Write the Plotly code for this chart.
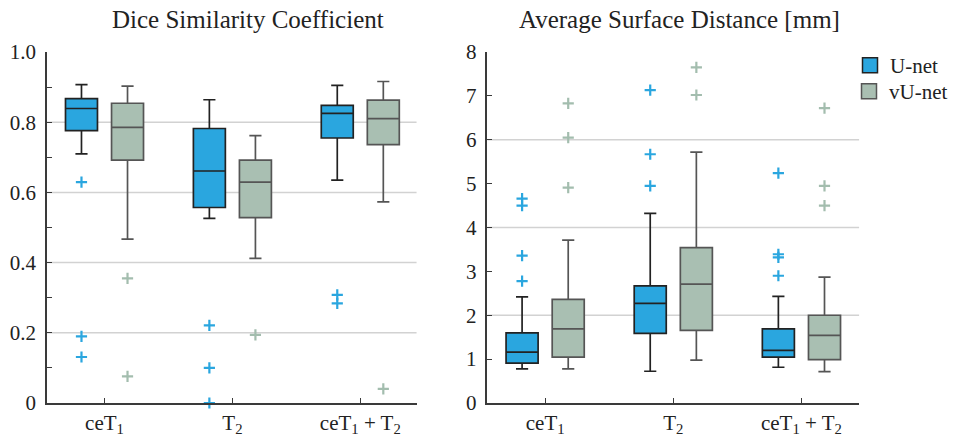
import plotly.graph_objects as go

categories = ["ceT<sub>1</sub>", "T<sub>2</sub>", "ceT<sub>1</sub> + T<sub>2</sub>"]
models = ["U-net", "vU-net"]

# Dice Similarity Coefficient
dsc_unet_upper = [0.907, 0.864, 0.905]
dsc_unet_q3 = [0.867, 0.782, 0.848]
dsc_unet_median = [0.839, 0.661, 0.825]
dsc_unet_q1 = [0.776, 0.557, 0.755]
dsc_unet_lower = [0.710, 0.526, 0.635]
dsc_unet_outliers = [[0.629, 0.190, 0.131], [0.221, 0.100, 0.0], [0.308, 0.284]]

dsc_vunet_upper = [0.903, 0.762, 0.916]
dsc_vunet_q3 = [0.854, 0.692, 0.863]
dsc_vunet_median = [0.785, 0.629, 0.810]
dsc_vunet_q1 = [0.692, 0.528, 0.736]
dsc_vunet_lower = [0.467, 0.412, 0.573]
dsc_vunet_outliers = [[0.355, 0.076], [0.194], [0.040]]

# Average Surface Distance [mm]
asd_unet_upper = [2.42, 4.32, 2.43]
asd_unet_q3 = [1.60, 2.67, 1.69]
asd_unet_median = [1.16, 2.27, 1.20]
asd_unet_q1 = [0.91, 1.585, 1.044]
asd_unet_lower = [0.777, 0.724, 0.815]
asd_unet_outliers = [[4.66, 4.50, 3.36, 2.78], [7.13, 5.67, 4.95], [5.24, 3.39, 3.32, 2.90]]

asd_vunet_upper = [3.71, 5.72, 2.87]
asd_vunet_q3 = [2.36, 3.54, 2.00]
asd_vunet_median = [1.69, 2.71, 1.54]
asd_vunet_q1 = [1.044, 1.653, 0.99]
asd_vunet_lower = [0.777, 0.975, 0.716]
asd_vunet_outliers = [[6.83, 6.05, 4.91], [7.65, 7.02], [6.72, 4.95, 4.50]]

dsc_ticks = [0, 0.2, 0.4, 0.6, 0.8, 1.0]
dsc_ticktext = ["0", "0.2", "0.4", "0.6", "0.8", "1.0"]
dsc_minor = [0.1, 0.3, 0.5, 0.7, 0.9]
dsc_grid = [0.2, 0.4, 0.6, 0.8]
asd_ticks = [0, 1, 2, 3, 4, 5, 6, 7, 8]
asd_grid = [2, 4, 6]

# styling
BLUE = "#2AA6DF"
GREEN = "#A9BFB2"
BLUE_LINE = "#222222"
GREEN_LINE = "#555555"
BLUE_PT = "#2AA6DF"
GREEN_PT = "#A3BDAE"
OFFSET = 0.18
BOXW = 0.25
FONT = "Liberation Serif"

fig = go.Figure()

def add_panel(xa, ya, stats_u, stats_v, out_u, out_v):
    n = len(categories)
    for stats, outs, fill, lc, pc, off, name in [
        (stats_u, out_u, BLUE, BLUE_LINE, BLUE_PT, -OFFSET, models[0]),
        (stats_v, out_v, GREEN, GREEN_LINE, GREEN_PT, OFFSET, models[1]),
    ]:
        lower, q1, med, q3, upper = stats
        xs = [i + off for i in range(n)]
        fig.add_trace(go.Box(
            x=xs, lowerfence=lower, q1=q1, median=med, q3=q3, upperfence=upper,
            width=BOXW, whiskerwidth=0.38, fillcolor=fill,
            line=dict(color=lc, width=1.7), boxpoints=False,
            xaxis=xa, yaxis=ya, showlegend=False, name=name, hoverinfo="skip",
        ))
        ox, oy = [], []
        for i, vals in enumerate(outs):
            for v in vals:
                ox.append(i + off)
                oy.append(v)
        fig.add_trace(go.Scatter(
            x=ox, y=oy, mode="markers", xaxis=xa, yaxis=ya, showlegend=False,
            marker=dict(symbol="cross-thin", size=8, line=dict(color=pc, width=2.2)),
            cliponaxis=False, hoverinfo="skip",
        ))

add_panel("x", "y",
          (dsc_unet_lower, dsc_unet_q1, dsc_unet_median, dsc_unet_q3, dsc_unet_upper),
          (dsc_vunet_lower, dsc_vunet_q1, dsc_vunet_median, dsc_vunet_q3, dsc_vunet_upper),
          dsc_unet_outliers, dsc_vunet_outliers)
add_panel("x2", "y2",
          (asd_unet_lower, asd_unet_q1, asd_unet_median, asd_unet_q3, asd_unet_upper),
          (asd_vunet_lower, asd_vunet_q1, asd_vunet_median, asd_vunet_q3, asd_vunet_upper),
          asd_unet_outliers, asd_vunet_outliers)

# legend entries (one legend per model so the rows can be spaced like the original)
for name, fill, lc, leg in [(models[0], BLUE, BLUE_LINE, "legend"),
                            (models[1], GREEN, GREEN_LINE, "legend2")]:
    fig.add_trace(go.Scatter(
        x=[None], y=[None], mode="markers", name=name, xaxis="x2", yaxis="y2", legend=leg,
        marker=dict(symbol="square", size=15, color=fill, line=dict(color=lc, width=1.5)),
    ))

# gridlines
shapes = []
for g in dsc_grid:
    shapes.append(dict(type="line", xref="x domain", yref="y", x0=0, x1=1, y0=g, y1=g,
                       line=dict(color="#D2D2D2", width=1.5), layer="below"))
for g in asd_grid:
    shapes.append(dict(type="line", xref="x2 domain", yref="y2", x0=0, x1=1, y0=g, y1=g,
                       line=dict(color="#D2D2D2", width=1.5), layer="below"))

W, H = 953, 436
ydom = [1 - 403 / H, 1 - 52 / H]
axis_common = dict(showline=True, linecolor="#3A3A3A", linewidth=1.5, ticks="inside",
                   ticklen=5, tickwidth=1.2, tickcolor="#3A3A3A", showgrid=False,
                   zeroline=False, automargin=False,
                   tickfont=dict(family=FONT, size=21, color="#222"))

legend_common = dict(xanchor="left", yanchor="top", bgcolor="rgba(0,0,0,0)",
                     font=dict(family=FONT, size=21, color="#222"), itemsizing="trace")

fig.update_layout(
    template="none",
    width=W, height=H, margin=dict(l=0, r=0, t=0, b=0),
    paper_bgcolor="white", plot_bgcolor="white", boxmode="overlay",
    font=dict(family=FONT, color="#222"),
    shapes=shapes,
    xaxis=dict(domain=[47 / W, 417 / W], range=[-0.45, 2.44], tickmode="array",
               tickvals=[0, 1, 2], ticktext=categories, anchor="y", **axis_common),
    yaxis=dict(domain=ydom, range=[0, 1.0], tickmode="array", tickvals=dsc_ticks,
               ticktext=dsc_ticktext, anchor="x", ticklabelstandoff=5,
               minor=dict(tickmode="array", tickvals=dsc_minor, ticks="inside", ticklen=5,
                          tickcolor="#3A3A3A", showgrid=False),
               **axis_common),
    xaxis2=dict(domain=[488 / W, 860 / W], range=[-0.45, 2.45], tickmode="array",
                tickvals=[0, 1, 2], ticktext=categories, anchor="y2", **axis_common),
    yaxis2=dict(domain=ydom, range=[0, 8], tickmode="array", tickvals=asd_ticks,
                ticktext=[str(t) for t in asd_ticks], anchor="x2", ticklabelstandoff=5,
                **axis_common),
    legend=dict(x=850 / W, y=1 - 45 / H, **legend_common),
    legend2=dict(x=850 / W, y=1 - 71 / H, **legend_common),
    annotations=[
        dict(text="Dice Similarity Coefficient", x=248 / W, y=1 - 20 / H, xref="paper",
             yref="paper", showarrow=False, xanchor="center", yanchor="middle",
             font=dict(family=FONT, size=25, color="#222")),
        dict(text="Average Surface Distance [mm]", x=680 / W, y=1 - 20 / H, xref="paper",
             yref="paper", showarrow=False, xanchor="center", yanchor="middle",
             font=dict(family=FONT, size=25, color="#222")),
    ],
)

fig.write_html(
    "out.html",
    config={"displayModeBar": False},
    post_script="document.body.style.margin='0';document.body.style.padding='0';"
                "document.body.style.overflow='hidden';",
)
